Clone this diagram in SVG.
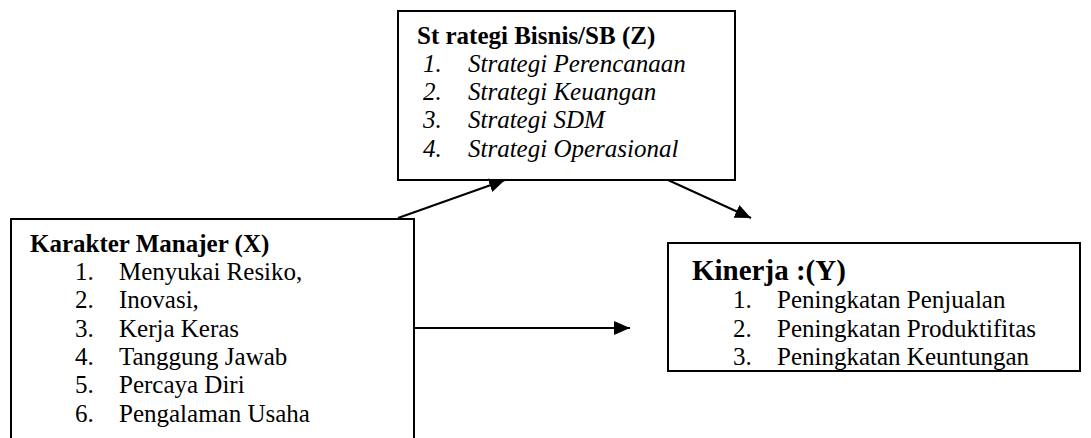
<svg xmlns="http://www.w3.org/2000/svg" width="1091" height="438" viewBox="0 0 1091 438">
  <style>
    .box { fill: #ffffff; stroke: #000000; stroke-width: 2; }
    .t { font-family: "Liberation Serif", "Times New Roman", serif; font-size: 25px; fill: #000000; }
    .b { font-weight: bold; }
    .i { font-style: italic; }
    .big { font-size: 29px; }
    .conn { stroke: #000000; stroke-width: 2; fill: none; marker-end: url(#arrow); }
  </style>
  <defs>
    <marker id="arrow" markerUnits="userSpaceOnUse" markerWidth="16" markerHeight="14" refX="16" refY="7" orient="auto">
      <path d="M0,0 L16,7 L0,14 Z" fill="#000000"/>
    </marker>
  </defs>

  <!-- Strategi Bisnis (Z) -->
  <g id="node-strategi">
    <rect class="box" x="398" y="11" width="337" height="169"/>
    <text class="t b" x="417" y="44">St rategi Bisnis/SB (Z)</text>
    <text class="t i" x="423" y="72">1.</text><text class="t i" x="468" y="72">Strategi Perencanaan</text>
    <text class="t i" x="423" y="100">2.</text><text class="t i" x="468" y="100">Strategi Keuangan</text>
    <text class="t i" x="423" y="128">3.</text><text class="t i" x="468" y="128">Strategi SDM</text>
    <text class="t i" x="423" y="157">4.</text><text class="t i" x="468" y="157">Strategi Operasional</text>
  </g>

  <!-- Karakter Manajer (X) -->
  <g id="node-karakter">
    <rect class="box" x="11" y="219" width="403" height="230"/>
    <text class="t b" x="30" y="252">Karakter Manajer (X)</text>
    <text class="t" x="75" y="280">1.</text><text class="t" x="119" y="280">Menyukai Resiko,</text>
    <text class="t" x="75" y="308">2.</text><text class="t" x="119" y="308">Inovasi,</text>
    <text class="t" x="75" y="337">3.</text><text class="t" x="119" y="337">Kerja Keras</text>
    <text class="t" x="75" y="365">4.</text><text class="t" x="119" y="365">Tanggung Jawab</text>
    <text class="t" x="75" y="393">5.</text><text class="t" x="119" y="393">Percaya Diri</text>
    <text class="t" x="75" y="422">6.</text><text class="t" x="119" y="422">Pengalaman Usaha</text>
  </g>

  <!-- Kinerja (Y) -->
  <g id="node-kinerja">
    <rect class="box" x="668" y="243" width="412" height="128"/>
    <text class="t b big" x="692" y="280">Kinerja :(Y)</text>
    <text class="t" x="733" y="308">1.</text><text class="t" x="777" y="308">Peningkatan Penjualan</text>
    <text class="t" x="733" y="337">2.</text><text class="t" x="777" y="337">Peningkatan Produktifitas</text>
    <text class="t" x="733" y="365">3.</text><text class="t" x="777" y="365">Peningkatan Keuntungan</text>
  </g>

  <!-- Connectors -->
  <g id="connectors">
    <line class="conn" x1="398" y1="218" x2="505" y2="180"/>
    <line class="conn" x1="668" y1="180" x2="751" y2="218"/>
    <line class="conn" x1="414" y1="328" x2="630" y2="328"/>
  </g>
</svg>
